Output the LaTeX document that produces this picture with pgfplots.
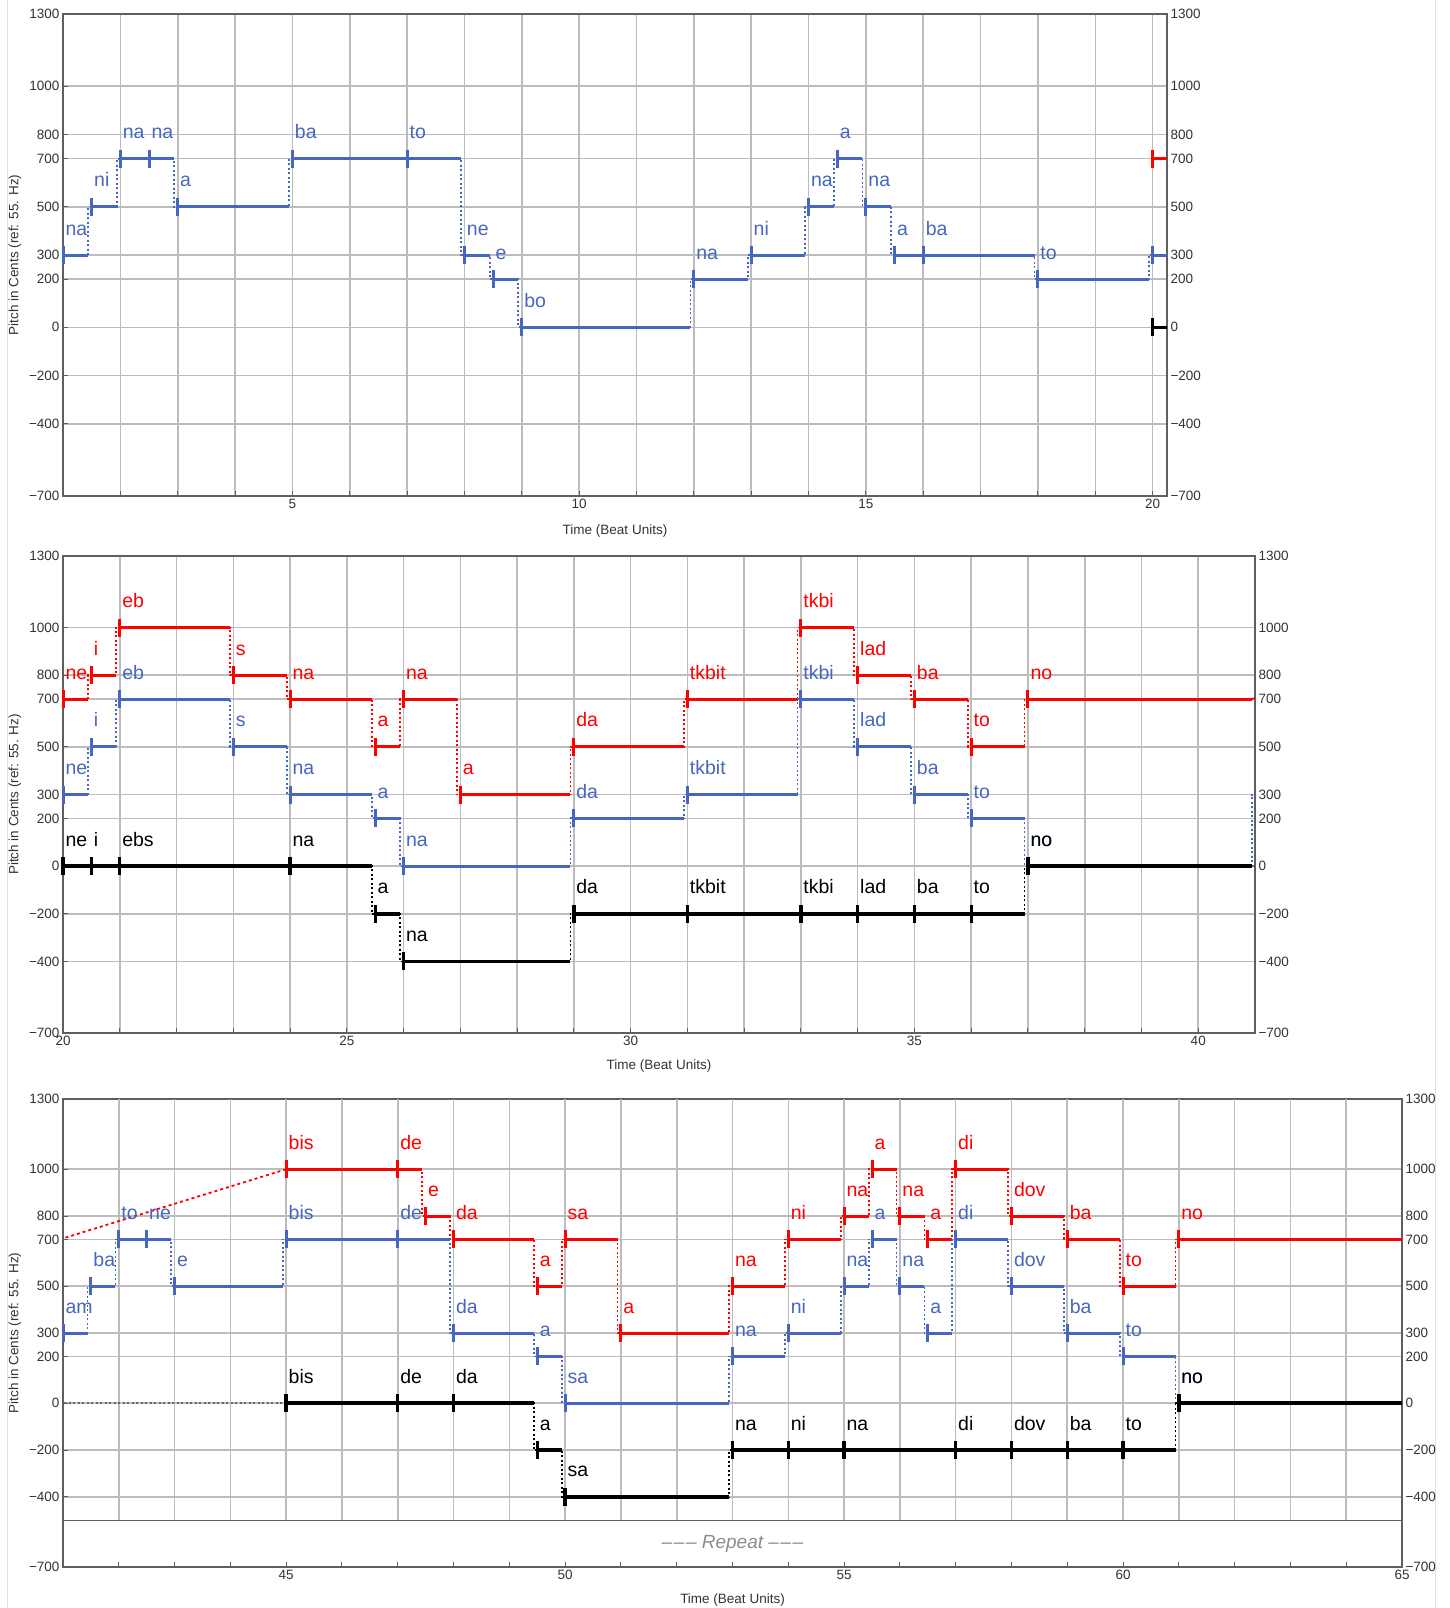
\documentclass[border=0pt]{standalone}
\usepackage{fontspec}
\setmainfont{Liberation Sans}
\usepackage{pgfplots}
\usepackage{pgfplotstable}
\pgfplotsset{compat=1.18}

\definecolor{bluec}{RGB}{70,102,192}
\definecolor{redc}{RGB}{255,0,0}
\definecolor{gridc}{RGB}{188,188,188}
\definecolor{framec}{RGB}{95,95,95}

% one row per syllable: start, end of the held line, pitch (cents), syllable
\pgfplotstableread{
xs xe y lab
1 1.44 300 na
1.5 1.94 500 ni
2 2.5 700 na
2.5 2.94 700 na
3 4.94 500 a
5 7 700 ba
7 7.94 700 to
8 8.44 300 ne
8.5 8.94 200 e
9 11.94 0 bo
12 12.94 200 na
13 13.94 300 ni
14 14.44 500 na
14.5 14.94 700 a
15 15.44 500 na
15.5 16 300 a
16 17.94 300 ba
18 19.94 200 to
20 20.44 300 ne
20.5 20.94 500 i
21 22.94 700 eb
23 23.94 500 s
24 25.44 300 na
25.5 25.94 200 a
26 28.94 0 na
29 30.94 200 da
31 32.94 300 tkbit
33 33.94 700 tkbi
34 34.94 500 lad
35 35.94 300 ba
36 36.94 200 to
37 40.94 0 no
41 41.44 300 am
41.5 41.94 500 ba
42 42.5 700 to
42.5 42.94 700 ne
43 44.94 500 e
45 47 700 bis
47 47.94 700 de
48 49.44 300 da
49.5 49.94 200 a
50 52.94 0 sa
53 53.94 200 na
54 54.94 300 ni
55 55.44 500 na
55.5 55.94 700 a
56 56.44 500 na
56.5 56.94 300 a
57 57.94 700 di
58 58.94 500 dov
59 59.94 300 ba
60 60.94 200 to
61 65 0 no
}\bluetab

\pgfplotstableread{
xs xe y lab
20 20.44 700 ne
20.5 20.94 800 i
21 22.94 1000 eb
23 23.94 800 s
24 25.44 700 na
25.5 25.94 500 a
26 26.94 700 na
27 28.94 300 a
29 30.94 500 da
31 32.94 700 tkbit
33 33.94 1000 tkbi
34 34.94 800 lad
35 35.94 700 ba
36 36.94 500 to
37 40.94 700 no
45 47 1000 bis
47 47.44 1000 de
47.5 47.94 800 e
48 49.44 700 da
49.5 49.94 500 a
50 50.94 700 sa
51 52.94 300 a
53 53.94 500 na
54 54.94 700 ni
55 55.44 800 na
55.5 55.94 1000 a
56 56.44 800 na
56.5 56.94 700 a
57 57.94 1000 di
58 58.94 800 dov
59 59.94 700 ba
60 60.94 500 to
61 65 700 no
}\redtab

\pgfplotstableread{
xs xe y lab
20 20.5 0 ne
20.5 21 0 i
21 24 0 ebs
24 25.44 0 na
25.5 25.94 -200 a
26 28.94 -400 na
29 31 -200 da
31 33 -200 tkbit
33 34 -200 tkbi
34 35 -200 lad
35 36 -200 ba
36 36.94 -200 to
37 40.94 0 no
45 47 0 bis
47 48 0 de
48 49.44 0 da
49.5 49.94 -200 a
50 52.94 -400 sa
53 54 -200 na
54 55 -200 ni
55 57 -200 na
57 58 -200 di
58 59 -200 dov
59 60 -200 ba
60 60.94 -200 to
61 65 0 no
}\blacktab

\pgfplotsset{
  panel/.style={
    scale only axis, ymin=-700, ymax=1300,
    ytick={-700,-400,-200,0,200,300,500,700,800,1000,1300},
    yticklabels={−700,−400,−200,0,200,300,500,700,800,1000,1300},
    minor xtick={1,2,...,65},
    axis line style={framec, line width=1.3pt},
    ymajorgrids, xmajorgrids, xminorgrids,
    grid style={gridc, line width=1.6pt},
    minor grid style={gridc, line width=1.6pt},
    tick style={framec, line width=1pt},
    major tick length=5pt, minor tick length=5pt,
    tick align=inside, xtick pos=left, ytick pos=left,
    ticklabel style={font=\fontsize{13.5}{15}\selectfont, text=black!80},
  },
  rightlab/.style={
    scale only axis, ymin=-700, ymax=1300,
    ytick={-700,-400,-200,0,200,300,500,700,800,1000,1300},
    yticklabels={−700,−400,−200,0,200,300,500,700,800,1000,1300},
    yticklabel pos=right, ytick pos=right, xtick=\empty,
    axis line style={draw=none}, major tick length=0pt,
    ticklabel style={font=\fontsize{13.5}{15}\selectfont, text=black!80},
  },
  seg/.style={quiver={u=\thisrow{xe}-\thisrow{xs}, v=0}},
  conn/.style={const plot mark right, dash pattern=on 2pt off 2.5pt, line width=1.8pt},
  tmarks/.style={only marks, mark=|, mark size=9pt, mark options={solid, line width=#1}},
  labs/.style={draw=none, mark=none, nodes near coords, point meta=explicit symbolic,
    every node near coord/.append style={anchor=base west, xshift=-1pt, yshift=20pt,
      font=\fontsize{19.5}{21}\selectfont, text=#1}},
}

% #1: domain of the tick marks, #2: domain of the syllables
\newcommand{\drawtiers}[2]{%
  \addplot[redc, conn, restrict x to domain=0:41] table[x=xe,y=y]{\redtab};
  \addplot[redc, conn, restrict x to domain=46:66] table[x=xe,y=y]{\redtab};
  \addplot[redc, line width=1.8pt, dash pattern=on 3pt off 3pt] coordinates {(40.94,700) (45,1000)};
  \addplot[redc, line width=3pt, seg] table[x=xs,y=y]{\redtab};
  \addplot[redc, tmarks=3pt, restrict x to domain=#1] table[x=xs,y=y]{\redtab};
  \addplot[labs=redc, restrict x to domain=#2] table[x=xs,y=y,meta=lab]{\redtab};
  \addplot[bluec, conn] table[x=xe,y=y]{\bluetab};
  \addplot[bluec, line width=3pt, seg] table[x=xs,y=y]{\bluetab};
  \addplot[bluec, tmarks=3pt, restrict x to domain=#1] table[x=xs,y=y]{\bluetab};
  \addplot[labs=bluec, restrict x to domain=#2] table[x=xs,y=y,meta=lab]{\bluetab};
  \addplot[black, conn, restrict x to domain=0:41] table[x=xe,y=y]{\blacktab};
  \addplot[black, conn, restrict x to domain=46:66] table[x=xe,y=y]{\blacktab};
  \addplot[black!60, line width=2pt, dash pattern=on 2pt off 2.5pt] coordinates {(40.94,0) (44.94,0)};
  \addplot[black, line width=3.6pt, seg] table[x=xs,y=y]{\blacktab};
  \addplot[black, tmarks=3.4pt, restrict x to domain=#1] table[x=xs,y=y]{\blacktab};
  \addplot[labs=black, restrict x to domain=#2] table[x=xs,y=y,meta=lab]{\blacktab};
}

\begin{document}
\begin{tikzpicture}
\useasboundingbox (0,0) rectangle (1450pt,-1608pt);
\draw[black!12, line width=1pt] (7pt,0) -- (7pt,-1608pt);
\draw[black!12, line width=1pt] (1435pt,0) -- (1435pt,-1608pt);

% panel 1
\begin{axis}[panel, at={(63pt,-496pt)}, anchor=south west, width=1104pt, height=482pt,
  xmin=1, xmax=20.25, xtick={5,10,15,20}, xticklabels={5,10,15,20}]
  \drawtiers{1:20}{0:19.9}
\end{axis}
\begin{axis}[rightlab, at={(63pt,-496pt)}, anchor=south west, width=1104pt, height=482pt,
  xmin=1, xmax=20.25]
\end{axis}

% panel 2
\begin{axis}[panel, at={(63pt,-1033pt)}, anchor=south west, width=1192pt, height=477pt,
  xmin=20, xmax=41, xtick={20,25,30,35,40}, xticklabels={20,25,30,35,40}]
  \drawtiers{20:40.99}{20:40.9}
\end{axis}
\begin{axis}[rightlab, at={(63pt,-1033pt)}, anchor=south west, width=1192pt, height=477pt,
  xmin=20, xmax=41]
\end{axis}

% panel 3
\begin{axis}[panel, at={(63pt,-1567pt)}, anchor=south west, width=1339pt, height=468pt,
  xmin=41, xmax=65, xtick={45,50,55,60,65}, xticklabels={45,50,55,60,65},
  xmajorgrids=false, xminorgrids=false]
  \pgfplotsinvokeforeach{42,...,64}{\draw[gridc, line width=1.6pt] (axis cs:#1,-500) -- (axis cs:#1,1300);}
  \draw[framec, line width=1.3pt] (axis cs:41,-500) -- (axis cs:65,-500);
  \node[font=\fontsize{19}{21}\selectfont\itshape, text=black!45] at (axis cs:53,-600)
    {\textendash\kern1.5pt\textendash\kern1.5pt\textendash\ Repeat \textendash\kern1.5pt\textendash\kern1.5pt\textendash};
  \drawtiers{41:65}{41:65}
\end{axis}
\begin{axis}[rightlab, at={(63pt,-1567pt)}, anchor=south west, width=1339pt, height=468pt,
  xmin=41, xmax=65]
\end{axis}

\node[rotate=90, font=\fontsize{13.5}{15}\selectfont, text=black!80] at (15pt,-255pt) {Pitch in Cents (ref: 55. Hz)};
\node[rotate=90, font=\fontsize{13.5}{15}\selectfont, text=black!80] at (15pt,-794.5pt) {Pitch in Cents (ref: 55. Hz)};
\node[rotate=90, font=\fontsize{13.5}{15}\selectfont, text=black!80] at (15pt,-1333pt) {Pitch in Cents (ref: 55. Hz)};
\node[font=\fontsize{13.5}{15}\selectfont, text=black!80] at (615pt,-531pt) {Time (Beat Units)};
\node[font=\fontsize{13.5}{15}\selectfont, text=black!80] at (659pt,-1066pt) {Time (Beat Units)};
\node[font=\fontsize{13.5}{15}\selectfont, text=black!80] at (732.5pt,-1600pt) {Time (Beat Units)};
\end{tikzpicture}
\end{document}
